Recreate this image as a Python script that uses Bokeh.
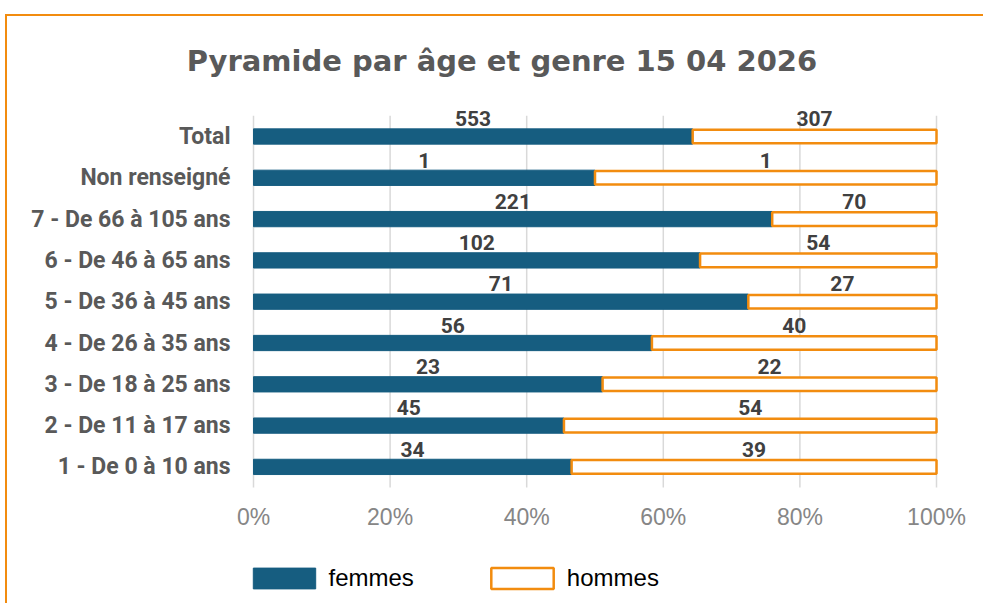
from bokeh.plotting import figure
from bokeh.models import Range1d, ColumnDataSource, Legend, LegendItem, InlineStyleSheet
from bokeh.core.properties import value
from bokeh.embed import file_html
from bokeh.resources import INLINE

title_text = "Pyramide par âge et genre 15 04 2026"
categories = ["1 - De 0 à 10 ans", "2 - De 11 à 17 ans", "3 - De 18 à 25 ans",
              "4 - De 26 à 35 ans", "5 - De 36 à 45 ans", "6 - De 46 à 65 ans",
              "7 - De 66 à 105 ans", "Non renseigné", "Total"]
femmes = [34, 45, 23, 56, 71, 102, 221, 1, 553]
hommes = [39, 54, 22, 40, 27, 54, 70, 1, 307]
x_ticks = [0, 0.2, 0.4, 0.6, 0.8, 1.0]
x_tick_labels = ["0%", "20%", "40%", "60%", "80%", "100%"]

# ---- layout constants (pixels) ----
W, H = 983, 603
X0_PX, X1_PX = 253, 936        # where 0 % and 100 % fall
TOP_ROW_PX, ROW_PX = 136, 41.3  # centre of the top row, row pitch
n = len(categories)


def px2x(px):
    return (px - X0_PX) / (X1_PX - X0_PX)


def px2y(py):
    return (n - 1) - (py - TOP_ROW_PX) / ROW_PX


pos = list(range(n))
f_share = [f / (f + h) for f, h in zip(femmes, hommes)]
LABEL_LIFT = 0.43
src = ColumnDataSource(dict(
    pos=pos,
    lab_y=[i + LABEL_LIFT for i in pos],
    f_share=f_share,
    one=[1.0] * n,
    zero=[0.0] * n,
    f_mid=[s / 2 for s in f_share],
    h_mid=[(s + 1) / 2 for s in f_share],
    f_lab=[str(v) for v in femmes],
    h_lab=[str(v) for v in hommes],
))
tick_src = ColumnDataSource(dict(x=x_ticks, y=[-0.5] * len(x_ticks), top=[n - 0.5] * len(x_ticks),
                                 text=x_tick_labels))
cat_src = ColumnDataSource(dict(x=[0.0] * n, y=pos, text=categories))

BLUE = "#165d80"
ORANGE = "#f28c0f"

p = figure(width=W, height=H, x_range=Range1d(px2x(0), px2x(W)), y_range=Range1d(px2y(H), px2y(0)),
           output_backend="svg", toolbar_location=None,
           min_border_left=0, min_border_right=0, min_border_top=0, min_border_bottom=0)
p.xaxis.visible = False
p.yaxis.visible = False
p.xgrid.grid_line_color = None
p.ygrid.grid_line_color = None
p.outline_line_color = None
p.background_fill_color = "white"
p.border_fill_color = "white"

# vertical gridlines at the ticks, spanning the category band
p.segment(x0="x", x1="x", y0="y", y1="top", source=tick_src, line_color="#d9d9d9", line_width=1.5)

# bars (100 % stacked)
r1 = p.hbar(y="pos", left="zero", right="f_share", height=0.37, source=src,
            fill_color=BLUE, line_color=BLUE, line_width=1)
r2 = p.hbar(y="pos", left="f_share", right="one", height=0.33, source=src,
            fill_color="white", line_color=ORANGE, line_width=2.5)

# value labels above each segment
lab_kw = dict(text_align="center", text_baseline="middle", text_font=value("Roboto"),
              text_font_style="bold", text_font_size="21px", text_color="#404040")
p.text(x="f_mid", y="lab_y", text="f_lab", source=src, **lab_kw)
p.text(x="h_mid", y="lab_y", text="h_lab", source=src, **lab_kw)

# category labels (y axis)
p.text(x="x", y="y", text="text", source=cat_src, x_offset=-23,
       text_align="right", text_baseline="middle", text_font=value("Roboto"),
       text_font_style="bold", text_font_size="23px", text_color="#595959")

# percentage tick labels (x axis)
p.text(x="x", y="y", text="text", source=tick_src, y_offset=29,
       text_align="center", text_baseline="alphabetic", text_font=value("Liberation Sans"),
       text_font_size="23px", text_color="#868686")

# title
p.text(x=[px2x(501.5)], y=[px2y(60)], text=[title_text],
       text_align="center", text_baseline="alphabetic", text_font=value("DejaVu Sans"),
       text_font_style="bold", text_font_size="29px", text_color="#595959")

legend = Legend(items=[LegendItem(label="femmes", renderers=[r1]),
                       LegendItem(label="hommes", renderers=[r2])],
                orientation="horizontal", location=(244.5, 11),
                glyph_width=78, glyph_height=26, label_standoff=6, spacing=69,
                padding=0, margin=0, border_line_alpha=0, background_fill_alpha=0,
                label_text_font="Liberation Sans", label_text_font_size="24px",
                label_text_color="black")
p.add_layout(legend)

# orange chart-area border (only its top and left edges fall inside the picture)
p.stylesheets = [InlineStyleSheet(css=(
    ":host { position: relative; }"
    ":host::after { content: ''; position: absolute; left: 5px; top: 14px; right: 0; bottom: 0;"
    " border-top: 2px solid #f28c0f; border-left: 2px solid #f28c0f; pointer-events: none; z-index: 10; }"
))]

open("out.html", "w").write(file_html(p, INLINE))
